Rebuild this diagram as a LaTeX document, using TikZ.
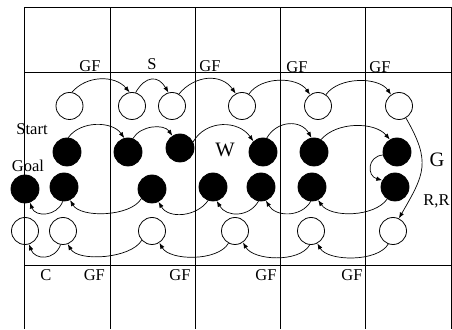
\documentclass[tikz,border=0pt]{standalone}
\usepackage{fontspec}
\setmainfont{Liberation Serif}
\usetikzlibrary{arrows.meta}
\begin{document}
\begin{tikzpicture}[x=1pt,y=1pt,
  wn/.style={circle,draw,line width=0.8pt,minimum size=27pt,inner sep=0pt},
  bn/.style={circle,fill=black,draw=black,line width=0.8pt,minimum size=28pt,inner sep=0pt},
  arr/.style={line width=0.7pt,-{Latex[length=6pt,width=4.5pt]}},
  gridline/.style={line width=0.8pt},
  lab/.style={font=\fontsize{16.5}{18}\selectfont,inner sep=0pt,anchor=base},
  big/.style={font=\fontsize{20.5}{22}\selectfont,inner sep=0pt,anchor=base}]
\useasboundingbox (0,0) rectangle (452,329);
% grid
\draw[gridline] (24,321.7) -- (451,321.7);
\draw[gridline] (24,256.3) -- (451,256.3);
\draw[gridline] (24,63.7) -- (451,63.7);
\foreach \x in {24,110,195,280,365.7,451}{\draw[gridline] (\x,321.7) -- (\x,0);}
% white top row
\node[wn] (w1) at (69.5,223) {};
\node[wn] (w2) at (132,223) {};
\node[wn] (w3) at (172,223) {};
\node[wn] (w4) at (242,223) {};
\node[wn] (w5) at (318,223) {};
\node[wn] (w6) at (399,223) {};
% black row 1
\node[bn] (k1) at (67,177) {};
\node[bn] (k2) at (128,177) {};
\node[bn] (k3) at (180,181) {};
\node[bn] (k4) at (263,177) {};
\node[bn] (k5) at (314,177) {};
\node[bn] (k6) at (397,177) {};
% black row 2
\node[bn] (g) at (25,140) {};
\node[bn] (k12) at (64,142) {};
\node[bn] (k11) at (152,140) {};
\node[bn] (k10) at (213,142) {};
\node[bn] (k9) at (261,142) {};
\node[bn] (k8) at (312,142) {};
\node[bn] (k7) at (395,142) {};
% white bottom row
\node[wn] (b1) at (25,98) {};
\node[wn] (b2) at (63,98) {};
\node[wn] (b3) at (152,98) {};
\node[wn] (b4) at (235,98) {};
\node[wn] (b5) at (311,98) {};
\node[wn] (b6) at (393,98) {};
% labels
\node[lab] (t1) at (90,257.3) {GF};
\node[lab] (t2) at (152,259) {S};
\node[lab] (t3) at (210,257.3) {GF};
\node[lab] (t4) at (297,256.7) {GF};
\node[lab] (t5) at (380,256.7) {GF};
\node[lab] (start) at (32,194) {Start};
\node[lab] (goal) at (28,157.3) {Goal};
\node[big] (wl) at (225,172.3) {W};
\node[big] (gl) at (437,162.3) {G};
\node[lab] (rr) at (436.5,123.7) {R,R};
\node[lab] (cl) at (46,48.3) {C};
\node[lab] (b1l) at (94.3,48.3) {GF};
\node[lab] (b2l) at (180,48.3) {GF};
\node[lab] (b3l) at (266,48.3) {GF};
\node[lab] (b4l) at (352,48.3) {GF};
% top white arcs
\draw[arr] (w1.80) .. controls +(50:22.6) and +(130:22.6) .. (w2.100);
\draw[arr] (w2.75) .. controls +(60:20) and +(120:20) .. (w3.105);
\draw[arr] (w3.60) .. controls +(50:25) and +(125:25) .. (w4.117);
\draw[arr] (w4.60) .. controls +(55:22) and +(125:22) .. (w5.125);
\draw[arr] (w5.55) .. controls +(55:22) and +(125:22) .. (w6.125);
\draw[arr] (w6.300) .. controls +(-60:51) and +(60:51) .. (b6.65);
% black row 1
\draw[arr] (k1.85) .. controls +(55:21) and +(125:21) .. (k2.105);
\draw[arr] (k2.70) .. controls +(60:15) and +(125:15) .. (k3.122);
\draw[arr] (k3.25) .. controls +(60:26) and +(125:26) .. (k4.132);
\draw[arr] (k4.75) .. controls +(60:21) and +(120:21) .. (k5.100);
\draw[arr] (k5.60) .. controls +(50:23.5) and +(130:23.5) .. (k6.120);
\draw[arr] (k6.192) .. controls +(185:16) and +(165:16) .. (k7.152);
% black row 2
\draw[arr] (k7.237) .. controls +(235:22) and +(305:22) .. (k8.295);
\draw[arr] (k8.265) .. controls +(240:19) and +(300:19) .. (k9.290);
\draw[arr] (k9.260) .. controls +(240:19) and +(300:19) .. (k10.285);
\draw[arr] (k10.250) .. controls +(235:20) and +(300:20) .. (k11.297);
\draw[arr] (k11.222) .. controls +(240:21) and +(300:21) .. (k12.295);
\draw[arr] (k12.265) .. controls +(250:16) and +(290:16) .. (g.290);
% bottom white row
\draw[arr] (b6.250) .. controls +(240:21) and +(300:21) .. (b5.297);
\draw[arr] (b5.265) .. controls +(240:21) and +(300:21) .. (b4.305);
\draw[arr] (b4.242) .. controls +(240:21) and +(300:21) .. (b3.302);
\draw[arr] (b3.222) .. controls +(240:21) and +(300:21) .. (b2.290);
\draw[arr] (b2.260) .. controls +(250:17) and +(290:17) .. (b1.287);
\end{tikzpicture}
\end{document}
